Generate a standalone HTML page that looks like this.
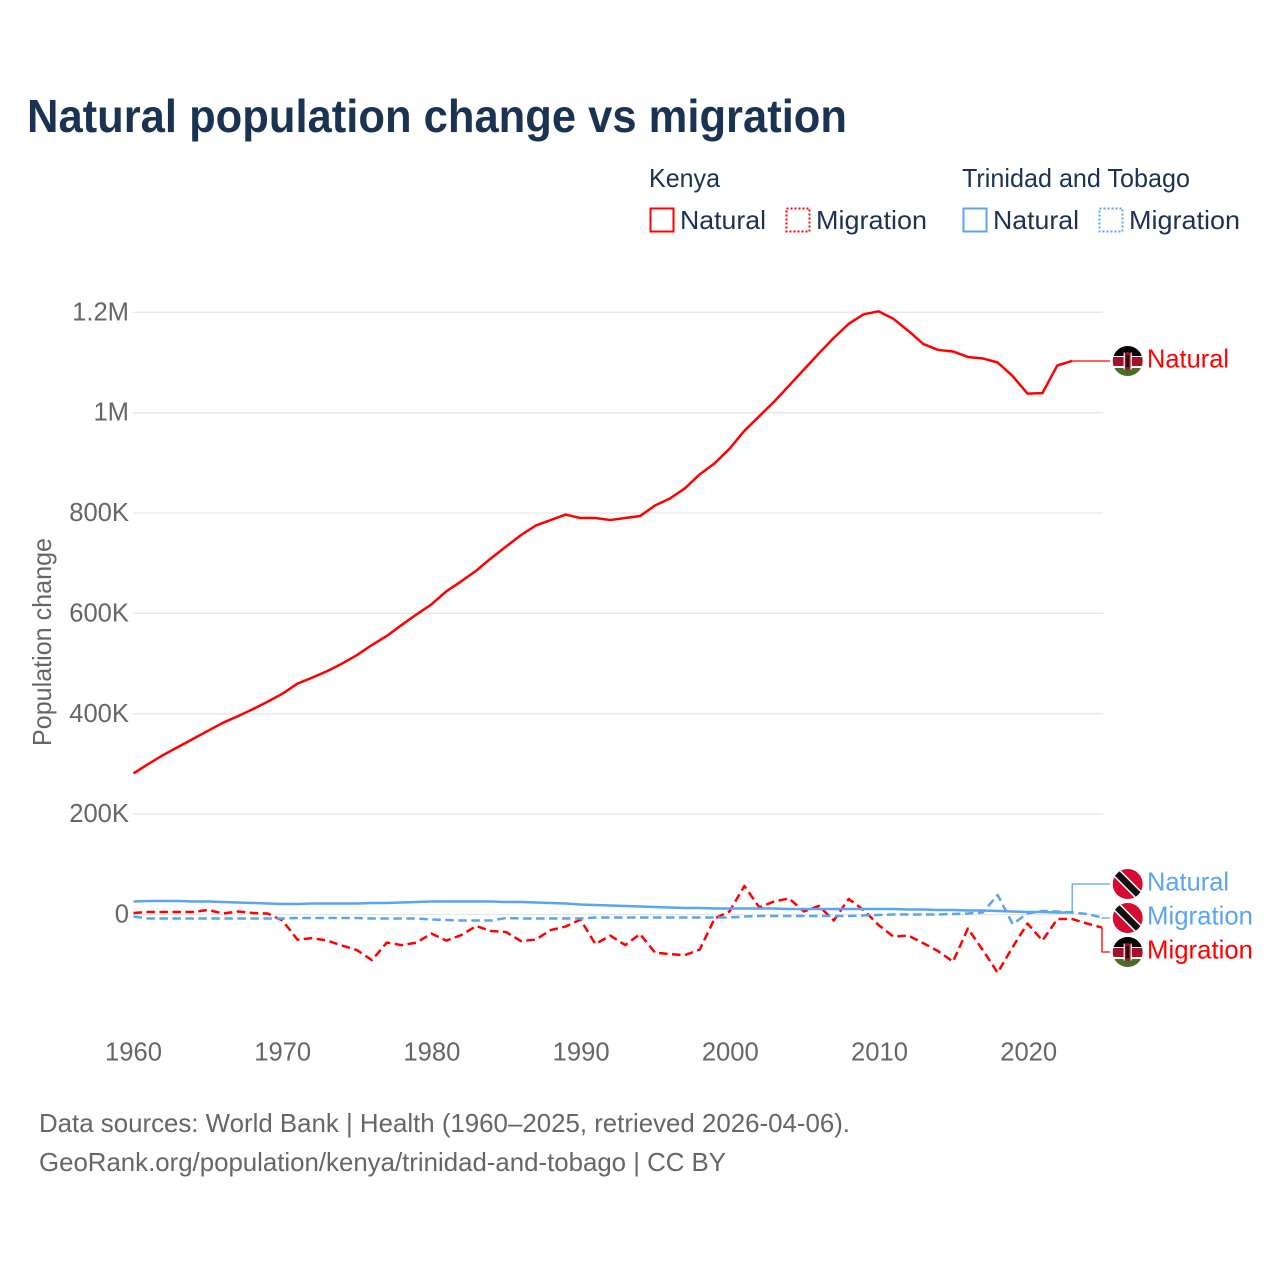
<!DOCTYPE html>
<html lang="en">
<head>
<meta charset="utf-8">
<title>Natural population change vs migration</title>
<style>
  html, body { margin: 0; padding: 0; background: #fff; }
  svg { display: block; font-family: "Liberation Sans", sans-serif; }
  .tick { font-size: 25.6px; fill: #666666; }
  .legend { font-size: 25.6px; fill: #1a3353; }
  .foot { font-size: 25.6px; fill: #666666; }
</style>
</head>
<body>
<svg id="chart" xmlns="http://www.w3.org/2000/svg" width="1280" height="1280" viewBox="0 0 1280 1280">
  <defs>
    <clipPath id="flag-clip"><circle cx="0" cy="0" r="15"></circle></clipPath>
    <g id="flag-ke" clip-path="url(#flag-clip)">
      <rect x="-15" y="-15" width="30" height="30" fill="#ffffff"></rect>
      <rect x="-15" y="-15" width="30" height="10" fill="#000000"></rect>
      <rect x="-15" y="-4" width="30" height="9" fill="#a6112a"></rect>
      <rect x="-15" y="7" width="30" height="8" fill="#4a6b2c"></rect>
      <rect x="-3" y="-9" width="6" height="18" rx="3" fill="#a6112a"></rect>
      <rect x="-1.4" y="-6" width="2.8" height="12" fill="#111111"></rect>
      <line x1="-3.5" y1="-8.5" x2="-3.5" y2="8.5" stroke="#ffffff" stroke-width="1.2"></line>
      <line x1="3.5" y1="-8.5" x2="3.5" y2="8.5" stroke="#ffffff" stroke-width="1.2"></line>
    </g>
    <g id="flag-tt" clip-path="url(#flag-clip)">
      <rect x="-15" y="-15" width="30" height="30" fill="#d60a33"></rect>
      <line x1="-15" y1="-15" x2="15" y2="15" stroke="#ffffff" stroke-width="9.5"></line>
      <line x1="-15" y1="-15" x2="15" y2="15" stroke="#111111" stroke-width="6.5"></line>
    </g>
  </defs>

  <text x="27" y="132" font-size="46.5" font-weight="700" fill="#1a3353" textLength="820" lengthAdjust="spacingAndGlyphs">Natural population change vs migration</text>

  <g>
    <text class="legend" x="649" y="187" textLength="71" lengthAdjust="spacingAndGlyphs">Kenya</text>
    <text class="legend" x="962" y="187" textLength="228" lengthAdjust="spacingAndGlyphs">Trinidad and Tobago</text>
    <rect x="650.5" y="208.5" width="23" height="23" fill="none" stroke="#ff0000" stroke-width="2"></rect>
    <text class="legend" x="680" y="229" textLength="86" lengthAdjust="spacingAndGlyphs">Natural</text>
    <rect x="786.5" y="208.5" width="23" height="23" fill="none" stroke="#ff0000" stroke-width="2" stroke-dasharray="2 2"></rect>
    <text class="legend" x="816" y="229" textLength="111" lengthAdjust="spacingAndGlyphs">Migration</text>
    <rect x="963.5" y="208.5" width="23" height="23" fill="none" stroke="#5ba4ee" stroke-width="2"></rect>
    <text class="legend" x="993" y="229" textLength="86" lengthAdjust="spacingAndGlyphs">Natural</text>
    <rect x="1099.5" y="208.5" width="23" height="23" fill="none" stroke="#5ba4ee" stroke-width="2" stroke-dasharray="2 2"></rect>
    <text class="legend" x="1129" y="229" textLength="111" lengthAdjust="spacingAndGlyphs">Migration</text>
  </g>

  <g id="grid"></g>
  <g id="y-ticks"></g>
  <g id="x-ticks"></g>
  <text class="tick" transform="translate(51,642) rotate(-90)" text-anchor="middle" textLength="208" lengthAdjust="spacingAndGlyphs">Population change</text>
  <g id="series"></g>
  <g id="labels"></g>

  <text class="foot" x="39" y="1132" textLength="811" lengthAdjust="spacingAndGlyphs">Data sources: World Bank | Health (1960–2025, retrieved 2026-04-06).</text>
  <text class="foot" x="39" y="1171" textLength="687" lengthAdjust="spacingAndGlyphs">GeoRank.org/population/kenya/trinidad-and-tobago | CC BY</text>
</svg>
<script>
// Chart data, in thousands of people per year, starting at startYear.
const startYear = 1960;
const yTickValues = [0, 200, 400, 600, 800, 1000, 1200];
const yTickLabels = ["0", "200K", "400K", "600K", "800K", "1M", "1.2M"];
const xTickValues = [1960, 1970, 1980, 1990, 2000, 2010, 2020];
const kenyaNatural = [281, 300, 318, 334, 350, 366, 382, 395, 409, 424, 440, 460, 472, 485, 500, 517, 537, 555, 577, 598, 618, 644, 664, 685, 710, 733, 756, 775, 786, 797, 790, 790, 786, 790, 794, 815, 829, 849, 877, 899, 928, 964, 993, 1022, 1054, 1086, 1118, 1149, 1177, 1196, 1202, 1187, 1163, 1137, 1125, 1122, 1111, 1108, 1100, 1073, 1038, 1039, 1094, 1103];
const kenyaMigration = [3, 5, 5, 5, 5, 9, 2, 6, 3, 2, -12, -50, -47, -52, -62, -71, -91, -56, -61, -56, -38, -52, -41, -23, -33, -35, -53, -50, -31, -24, -10, -59, -42, -61, -39, -76, -79, -81, -70, -8, 6, 57, 14, 26, 32, 6, 17, -12, 31, 9, -21, -44, -42, -57, -73, -94, -28, -71, -116, -65, -18, -52, -9, -9, -18, -26];
const ttNatural = [26, 27, 27, 27, 26, 26, 25, 24, 23, 22, 21, 21, 22, 22, 22, 22, 23, 23, 24, 25, 26, 26, 26, 26, 26, 25, 25, 24, 23, 22, 20, 19, 18, 17, 16, 15, 14, 13, 13, 12, 12, 12, 12, 12, 11, 11, 11, 11, 11, 11, 11, 11, 10, 10, 9, 9, 8, 8, 7, 6, 5, 5, 4, 4];
const ttMigration = [-4, -8, -8, -8, -8, -8, -8, -8, -8, -8, -8, -7, -7, -7, -7, -7, -8, -8, -8, -8, -10, -11, -12, -12, -12, -7, -8, -8, -8, -8, -8, -6, -6, -6, -6, -6, -6, -6, -6, -6, -6, -4, -3, -3, -3, -3, -3, -3, -3, -2, -1, 0, 0, 0, 0, 1, 2, 4, 39, -19, 2, 7, 6, 4, 1, -6];

const svgNS = "http://www.w3.org/2000/svg";
const RED = "#ff0000";
const BLUE = "#5ba4ee";
function xScale(year) { return 133.5 + (year - 1960) * 14.9; }
function xTickScale(year) { return 133.5 + (year - 1960) * 14.92; }
function yScale(v) { return 914.5 - v * 0.50183; }
function make(tag, attrs, parent) {
  const el = document.createElementNS(svgNS, tag);
  for (const k in attrs) el.setAttribute(k, attrs[k]);
  parent.appendChild(el);
  return el;
}
const gridG = document.getElementById("grid");
const yG = document.getElementById("y-ticks");
const xG = document.getElementById("x-ticks");
const seriesG = document.getElementById("series");
const labelsG = document.getElementById("labels");

yTickValues.forEach(function (v, i) {
  const line = make("line", { x1: 133, x2: 1103, y1: yScale(v), y2: yScale(v), stroke: "#e6e6e6", "stroke-width": 1.3 }, gridG);
  
  
  const t = make("text", { x: 129, y: yScale(v) + 8, "text-anchor": "end", class: "tick" }, yG);
  
  
  t.textContent = yTickLabels[i];
});
xTickValues.forEach(function (year) {
  const t = make("text", { x: xTickScale(year), y: 1060.5, "text-anchor": "middle", class: "tick" }, xG);
  
  
  t.textContent = year;
});

function drawSeries(values, color, dashed, seriesName) {
  const pts = values.map(function (v, i) {
    return xScale(startYear + i).toFixed(2) + "," + yScale(v).toFixed(2);
  }).join(" ");
  const line = make("polyline", { points: pts, fill: "none", stroke: color, "stroke-width": 2.5, "stroke-linejoin": "round" }, seriesG);
  if (dashed) line.setAttribute("stroke-dasharray", "8.5 4.5");
  
  
}
drawSeries(kenyaNatural, RED, false, "line-kenya-natural");
drawSeries(kenyaMigration, RED, true, "line-kenya-migration");
drawSeries(ttMigration, BLUE, true, "line-tt-migration");
drawSeries(ttNatural, BLUE, false, "line-tt-natural");

function drawEndLabel(values, labelY, color, flag, text, textWidth, connectorName, flagName, labelName) {
  const last = values.length - 1;
  const ex = xScale(startYear + last);
  const ey = yScale(values[last]);
  const c = make("polyline", { points: ex + "," + ey + " " + ex + "," + labelY + " 1110," + labelY, fill: "none", stroke: color, "stroke-width": 1.3 }, labelsG);
  
  
  const f = make("use", { href: flag, x: 1127.7, y: labelY }, labelsG);
  
  
  const t = make("text", { x: 1147, y: labelY + 6.5, "font-size": 25.6, fill: color, textLength: textWidth, lengthAdjust: "spacingAndGlyphs" }, labelsG);
  
  
  t.textContent = text;
}
drawEndLabel(kenyaNatural, 361, RED, "#flag-ke", "Natural", 82, "connector-kenya-natural", "flag-kenya-natural", "label-kenya-natural");
drawEndLabel(ttNatural, 884, BLUE, "#flag-tt", "Natural", 82, "connector-tt-natural", "flag-tt-natural", "label-tt-natural");
drawEndLabel(ttMigration, 918, BLUE, "#flag-tt", "Migration", 106, "connector-tt-migration", "flag-tt-migration", "label-tt-migration");
drawEndLabel(kenyaMigration, 952, RED, "#flag-ke", "Migration", 106, "connector-kenya-migration", "flag-kenya-migration", "label-kenya-migration");
</script>
</body>
</html>
